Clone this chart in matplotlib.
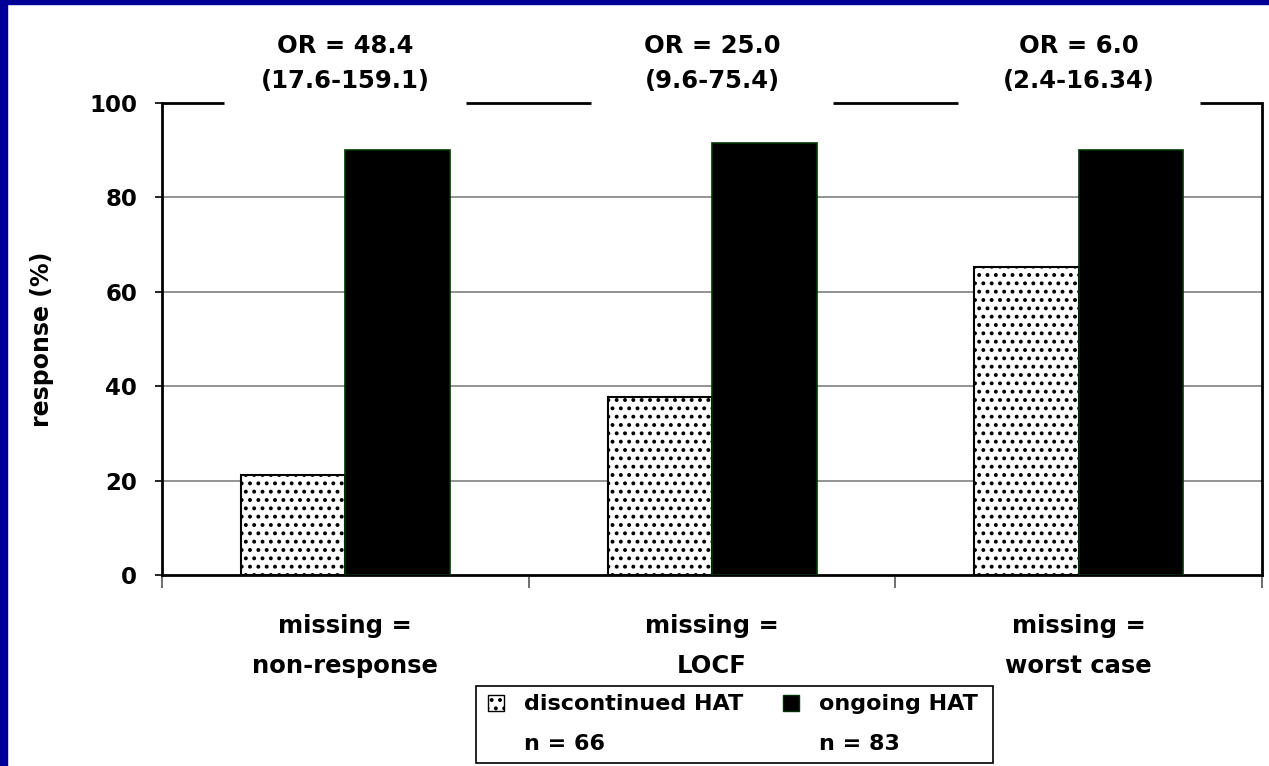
import numpy as np
import matplotlib.pyplot as plt
from matplotlib.patches import Patch, Rectangle

plt.rcParams['font.family'] = ['DejaVu Sans']
plt.rcParams['font.weight'] = 'bold'
plt.rcParams['hatch.linewidth'] = 1.6

# Data
categories = ['missing =\nnon-response', 'missing =\nLOCF', 'missing =\nworst case']
discontinued = [21.2, 37.7, 65.3]
ongoing = [90.0, 91.5, 90.0]
or_labels = ['OR = 48.4\n(17.6-159.1)', 'OR = 25.0\n(9.6-75.4)', 'OR = 6.0\n(2.4-16.34)']
series_labels = ['discontinued HAT', 'ongoing HAT']
n_labels = ['n = 66', 'n = 83']

W, H = 1269, 766
fig = plt.figure(figsize=(W / 100, H / 100), dpi=100)
fig.patch.set_facecolor('white')

# blue frame strips on the left and top
fig.patches.append(Rectangle((0, 0), 7 / W, 1, transform=fig.transFigure,
                             color='#000099', zorder=10))
fig.patches.append(Rectangle((0, 1 - 4 / H), 1, 4 / H, transform=fig.transFigure,
                             color='#000099', zorder=10))

ax = fig.add_axes([0.1277, 0.2493, 0.8668, 0.6162])

x = np.arange(len(categories))
w = 0.285
ax.bar(x - w / 2, discontinued, w, facecolor='white', edgecolor='black',
       hatch='..', linewidth=1.5, zorder=3)
ax.bar(x + w / 2, ongoing, w, facecolor='black', edgecolor='#003300',
       linewidth=1.2, zorder=3)

ax.set_xlim(-0.5, len(categories) - 0.5)
ax.set_ylim(0, 100)
ax.set_yticks(np.arange(0, 101, 20))
ax.yaxis.grid(True, color='#808080', linewidth=1.2, zorder=0)
ax.set_axisbelow(True)
gl = ax.get_ygridlines()
gl[0].set_visible(False)
gl[-1].set_visible(False)

ax.set_xticks(x)
ax.set_xticklabels(categories, fontsize=17.5, fontweight='bold', linespacing=1.85)
ax.set_xticks(np.arange(-0.5, len(categories)), minor=True)
ax.tick_params(axis='x', which='major', length=0, pad=28)
ax.tick_params(axis='x', which='minor', length=9, width=1.2, color='#555555')
ax.tick_params(axis='y', length=5, width=1.2, labelsize=16.5, pad=13)
for lab in ax.get_yticklabels():
    lab.set_fontweight('bold')

for side in ['left', 'right', 'bottom']:
    ax.spines[side].set_linewidth(2)
    ax.spines[side].set_color('black')
ax.spines['top'].set_visible(False)

# top border broken by the OR annotations
gap = 0.33
edges = [-0.5]
for xi in x:
    edges += [xi - gap, xi + gap]
edges.append(len(categories) - 0.5)
for a, b in zip(edges[::2], edges[1::2]):
    ax.plot([a, b], [100, 100], color='black', linewidth=2, clip_on=False,
            solid_capstyle='butt', zorder=4)

for xi, lab in zip(x, or_labels):
    ax.text(xi, 108.4, lab, ha='center', va='center', fontsize=17.5,
            fontweight='bold', linespacing=1.6)

ax.set_ylabel('response (%)', fontsize=17, fontweight='bold', labelpad=25)

# legend: frame drawn separately so it can be wider than its content
lx0, lx1, ly0, ly1 = 476, 993, 686, 763
fig.patches.append(Rectangle((lx0 / W, 1 - ly1 / H), (lx1 - lx0) / W, (ly1 - ly0) / H,
                             transform=fig.transFigure, facecolor='white',
                             edgecolor='black', linewidth=1.2, zorder=5))
handles = [Patch(facecolor='white', edgecolor='black', hatch='..', linewidth=1),
           Patch(visible=False),
           Patch(facecolor='black', edgecolor='#003300', linewidth=1),
           Patch(visible=False)]
labels = [series_labels[0], n_labels[0], series_labels[1], n_labels[1]]
leg = fig.legend(handles, labels, ncol=2, loc='center',
                 bbox_to_anchor=(733 / W, 1 - 724.5 / H),
                 frameon=False, prop={'size': 16, 'weight': 'bold'},
                 handlelength=0.72, handleheight=0.72, handletextpad=0.9,
                 columnspacing=1.8, labelspacing=0.9, borderpad=0.2,
                 borderaxespad=0)
leg.set_zorder(6)

fig.savefig('out.png', dpi=100)
